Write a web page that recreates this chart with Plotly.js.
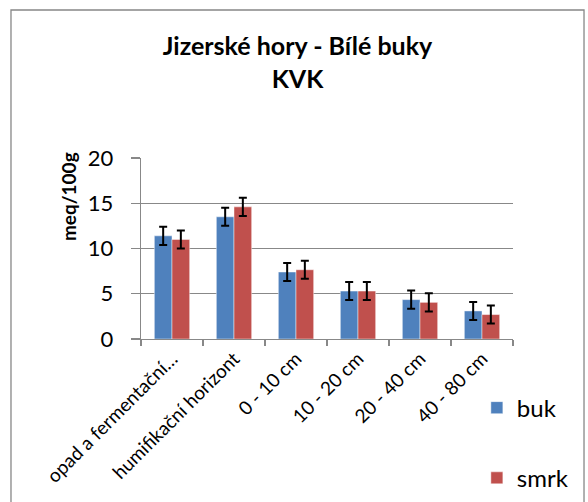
<!DOCTYPE html>
<html>
<head>
<meta charset="utf-8">
<script src="https://cdn.plot.ly/plotly-3.0.1.min.js"></script>
<style>
html,body{margin:0;padding:0;background:#fff;}
#chart{width:588px;height:502px;}
</style>
</head>
<body>
<div id="chart"></div>
<script>
const categories = ["opad a fermentační…", "humifikační horizont", "0 - 10 cm", "10 - 20 cm", "20 - 40 cm", "40 - 80 cm"];
const bukValues = [11.4, 13.5, 7.4, 5.3, 4.35, 3.1];
const smrkValues = [11.0, 14.6, 7.65, 5.3, 4.05, 2.7];
const bukErrors = [1.0, 1.0, 1.0, 1.0, 1.0, 1.0];
const smrkErrors = [1.0, 1.0, 1.0, 1.0, 1.0, 1.0];
const yTicks = [0, 5, 10, 15, 20];

const FONT = "Lato, 'Open Sans', sans-serif";
const GRID = "#888888";

const traces = [
  {
    type: "bar", name: "buk", x: categories, y: bukValues, legendgroup: "a",
    marker: {color: "#4F81BD", line: {color: "rgba(255,255,255,0.45)", width: 1}},
    error_y: {type: "data", array: bukErrors, visible: true, color: "#000", thickness: 2, width: 4}
  },
  {
    type: "bar", name: "smrk", x: categories, y: smrkValues, legendgroup: "b",
    marker: {color: "#C0504D", line: {color: "rgba(255,255,255,0.45)", width: 1}},
    error_y: {type: "data", array: smrkErrors, visible: true, color: "#000", thickness: 2, width: 4}
  }
];

const layout = {
  width: 588, height: 502,
  paper_bgcolor: "#fff", plot_bgcolor: "#fff",
  margin: {l: 141, r: 75, t: 158, b: 163, pad: 0, autoexpand: false},
  font: {family: FONT, color: "#000"},
  title: {
    text: "Jizerské hory - Bílé buky<br>KVK",
    font: {family: FONT, size: 25, weight: "bold", color: "#000"},
    x: 0.506, xanchor: "center", xref: "container",
    y: 0.89, yanchor: "top", yref: "container"
  },
  barmode: "group", bargap: 0.43, bargroupgap: 0,
  xaxis: {
    type: "category",
    tickangle: -45,
    tickfont: {size: 19, family: FONT},
    showline: true, linecolor: GRID, linewidth: 1.3,
    ticks: "outside", tickson: "boundaries", ticklen: 6, tickcolor: GRID, tickwidth: 1.3,
    showgrid: false, automargin: false
  },
  yaxis: {
    range: [0, 20], tickvals: yTicks, ticktext: yTicks.map(String),
    tickfont: {size: 22, family: FONT},
    showline: true, linecolor: GRID, linewidth: 1.3,
    ticks: "outside", ticklen: 9, tickcolor: GRID, tickwidth: 1.3,
    ticklabelstandoff: 13,
    showgrid: true, gridcolor: GRID, gridwidth: 1.3,
    zeroline: false, automargin: false
  },
  legend: {
    xref: "container", yref: "container",
    x: 0.811, xanchor: "left", y: 0.232, yanchor: "top",
    font: {size: 24, family: FONT},
    tracegroupgap: 36, bgcolor: "rgba(0,0,0,0)"
  },
  annotations: [{
    text: "meq/100g", textangle: -90, showarrow: false,
    xref: "paper", yref: "paper", x: -0.193, y: 0.785,
    xanchor: "center", yanchor: "middle",
    font: {size: 19, family: FONT, weight: "bold", color: "#000"}
  }],
  shapes: [{
    type: "rect", xref: "paper", yref: "paper",
    x0: -0.3495, x1: 1.1909, y0: -0.95, y1: 1.8177,
    line: {color: "#878787", width: 1.3}, fillcolor: "rgba(0,0,0,0)", layer: "below"
  }]
};

Plotly.newPlot("chart", traces, layout, {displayModeBar: false, staticPlot: true});
</script>
</body>
</html>
